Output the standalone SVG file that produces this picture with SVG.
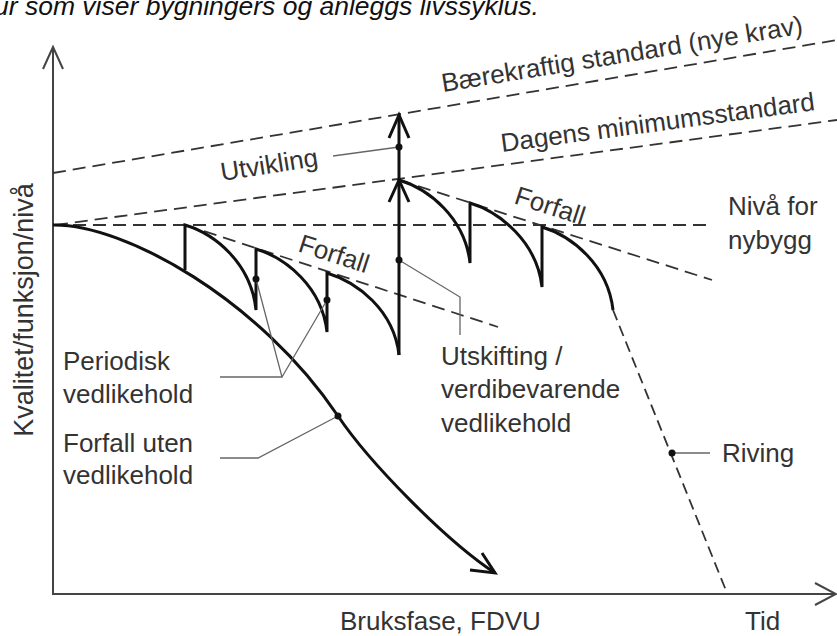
<svg xmlns="http://www.w3.org/2000/svg" width="837" height="636" viewBox="0 0 837 636">
<style>
.t{font-family:"Liberation Sans",Arial,sans-serif;font-size:26px;fill:#333}
.cap{font-family:"Liberation Sans",Arial,sans-serif;font-size:26.5px;font-style:italic;fill:#111}
.axis{fill:none;stroke:#444;stroke-width:2}
.thick{fill:none;stroke:#111;stroke-width:3;stroke-linejoin:miter}
.dash{fill:none;stroke:#333;stroke-width:1.8;stroke-dasharray:13 7}
.lead{fill:none;stroke:#666;stroke-width:1.3}
.dot{fill:#111}
</style>
<rect width="837" height="636" fill="#fff"/>
<text class="cap" x="-6" y="15">ur som viser bygningers og anleggs livssyklus.</text>

<g id="axes">
<path class="axis" d="M53,47 V594 H836"/>
<path class="axis" d="M43,69 L53,47 L63,69"/>
<path class="axis" d="M815,583 L836,594 L815,605"/>
<text class="t" transform="translate(33,310) rotate(-90)" text-anchor="middle" style="font-size:27px">Kvalitet/funksjon/nivå</text>
<text class="t" x="340" y="630">Bruksfase, FDVU</text>
<text class="t" x="745" y="630">Tid</text>
</g>

<g id="standards">
<path class="dash" d="M53,173 L837,40"/>
<path class="dash" d="M55,225 L837,120"/>
<path class="dash" d="M53,225 H712"/>
<text class="t" x="443" y="92" transform="rotate(-9.2 443 92)">Bærekraftig standard (nye krav)</text>
<text class="t" x="502" y="152" transform="rotate(-7.6 502 152)">Dagens minimumsstandard</text>
<text class="t" x="728" y="215">Nivå for</text>
<text class="t" x="728" y="249">nybygg</text>
</g>

<g id="forfall">
<path class="dash" d="M185,225 L498,327"/>
<path class="dash" d="M399,180 L712,280"/>
<text class="t" x="297" y="251" transform="rotate(18 297 251)">Forfall</text>
<text class="t" x="513" y="203" transform="rotate(18 513 203)">Forfall</text>
</g>

<g id="uten-vedlikehold">
<path class="thick" d="M53,225 C125,224 260,300 338,416 C369,462 445,540 495,573"/>
<path class="thick" d="M470,570 L495,573 L482,553"/>
</g>

<g id="vedlikehold">
<path class="thick" d="M185,270 V225 c30,9 66,38 71,85 V249 c30,9 66,38 71,83 V273 c30,9 67,37 72,82"/>
<path class="thick" d="M399,355 V115"/>
<path class="thick" d="M389,138 L399,115 L409,138"/>
<path class="thick" d="M389,202 L399,180 L409,202"/>
<path class="thick" d="M399,180 c30,9 66,38 71,83 V203 c30,9 67,39 72,84 V227 c30,9 66,38 71,83"/>
</g>

<g id="riving">
<path class="dash" style="stroke-dasharray:11 6" d="M613,310 L727,593"/>
<text class="t" x="722" y="462">Riving</text>
</g>

<g id="connectors">
<path class="lead" d="M333,156 L399,147"/>
<path class="lead" d="M399,260 L460,297 V335"/>
<path class="lead" d="M220,377 H282 L256,279 M282,377 L327,300"/>
<path class="lead" d="M220,458 H258 L338,416"/>
<path class="lead" d="M672,453 H710"/>
<circle class="dot" cx="399" cy="147" r="3.5"/>
<circle class="dot" cx="399" cy="260" r="3.5"/>
<circle class="dot" cx="256" cy="279" r="3.5"/>
<circle class="dot" cx="327" cy="300" r="3.5"/>
<circle class="dot" cx="338" cy="416" r="3.5"/>
<circle class="dot" cx="672" cy="453" r="3.5"/>
</g>

<g id="labels">
<text class="t" x="222" y="181" transform="rotate(-9 222 181)">Utvikling</text>
<text class="t" x="63" y="370">Periodisk</text>
<text class="t" x="63" y="403">vedlikehold</text>
<text class="t" x="63" y="452">Forfall uten</text>
<text class="t" x="63" y="484">vedlikehold</text>
<text class="t" x="441" y="365">Utskifting /</text>
<text class="t" x="441" y="398">verdibevarende</text>
<text class="t" x="441" y="432">vedlikehold</text>
</g>
</svg>
